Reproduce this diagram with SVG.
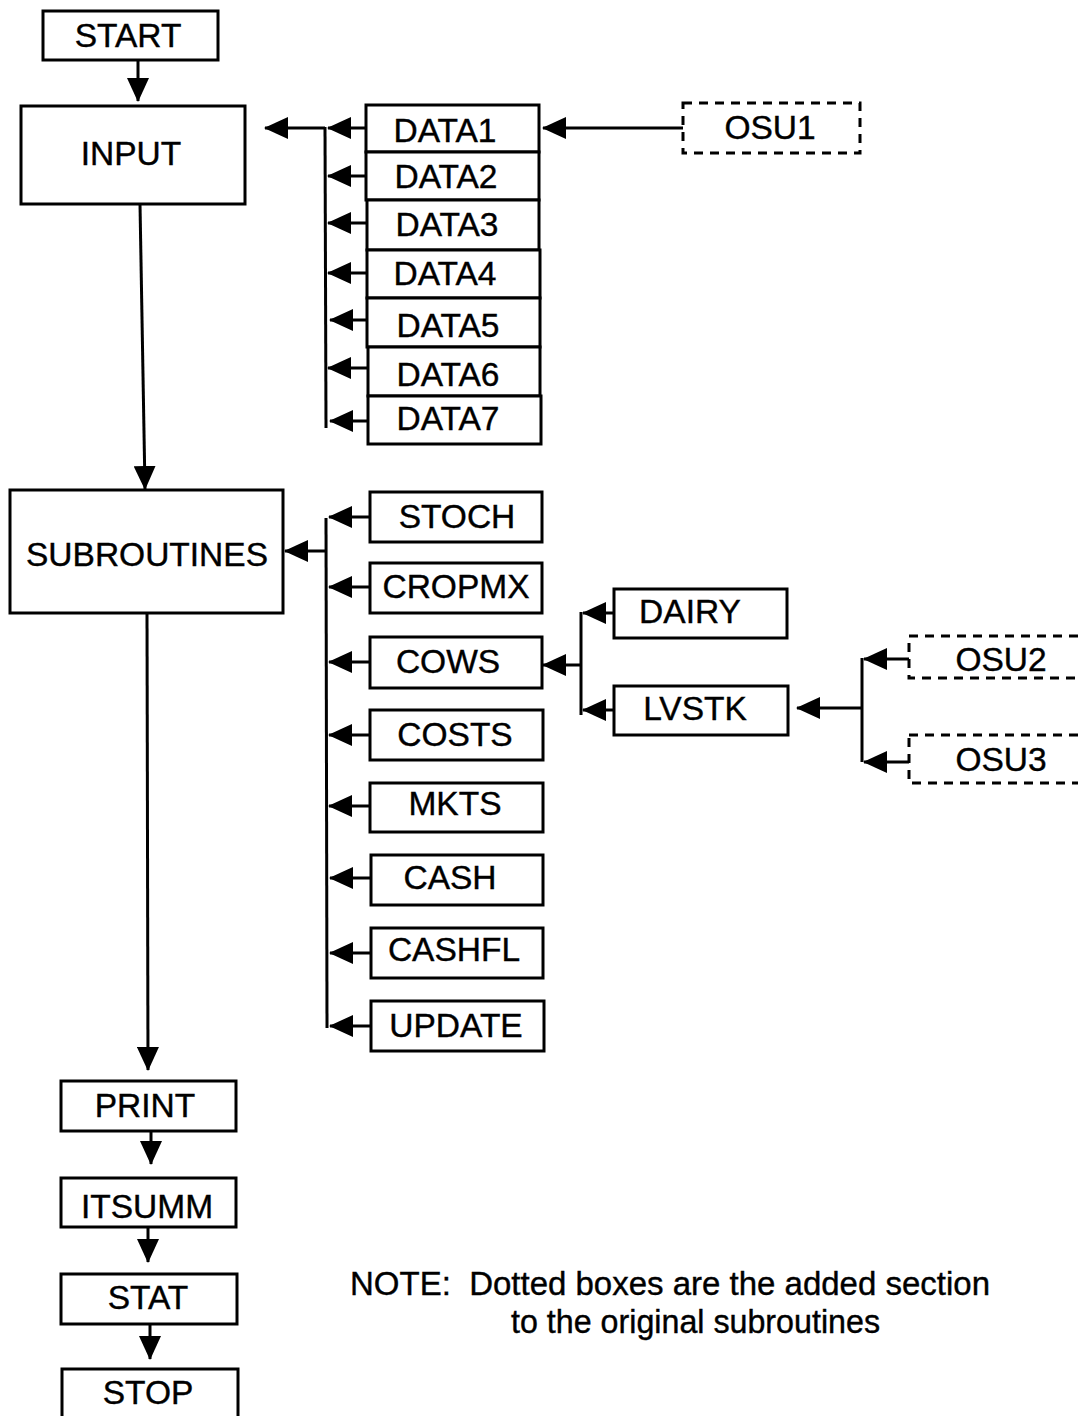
<svg xmlns="http://www.w3.org/2000/svg" width="1078" height="1416" viewBox="0 0 1078 1416">
<style>
.box{fill:#fff;stroke:#000;stroke-width:3}
.dash{fill:none;stroke:#000;stroke-width:3;stroke-dasharray:9 7}
.ln{fill:none;stroke:#000;stroke-width:3}
.arr{fill:none;stroke:#000;stroke-width:3;marker-end:url(#ah)}
text{font-family:"Liberation Sans",Arial,sans-serif;font-size:33.5px;fill:#000;stroke:#000;stroke-width:0.4;text-anchor:middle}
.note{text-anchor:start}
</style>
<defs>
<marker id="ah" markerUnits="userSpaceOnUse" markerWidth="24" markerHeight="22" refX="23" refY="11" orient="auto">
<path d="M0,0 L24,11 L0,22 z" fill="#000"/>
</marker>
</defs>
<g id="connectors">
<line class="arr" x1="138" y1="60" x2="138" y2="101"/>
<line class="arr" x1="325" y1="128" x2="265" y2="128"/>
<line class="ln" x1="325" y1="127" x2="326" y2="428"/>
<line class="arr" x1="366" y1="128" x2="328" y2="128"/>
<line class="arr" x1="366" y1="176" x2="328" y2="176"/>
<line class="arr" x1="366" y1="223" x2="328" y2="223"/>
<line class="arr" x1="367" y1="273" x2="328" y2="273"/>
<line class="arr" x1="367" y1="320" x2="330" y2="320"/>
<line class="arr" x1="368" y1="368" x2="328" y2="368"/>
<line class="arr" x1="368" y1="421" x2="330" y2="421"/>
<line class="arr" x1="683" y1="128" x2="543" y2="128"/>
<line class="arr" x1="140" y1="204" x2="145" y2="489"/>
<line class="arr" x1="326" y1="551" x2="285" y2="551"/>
<line class="ln" x1="326" y1="518" x2="327" y2="1028"/>
<line class="arr" x1="370" y1="517" x2="329" y2="517"/>
<line class="arr" x1="370" y1="587" x2="329" y2="587"/>
<line class="arr" x1="370" y1="662" x2="329" y2="662"/>
<line class="arr" x1="370" y1="735" x2="329" y2="735"/>
<line class="arr" x1="370" y1="806" x2="329" y2="806"/>
<line class="arr" x1="371" y1="878" x2="330" y2="878"/>
<line class="arr" x1="371" y1="953" x2="330" y2="953"/>
<line class="arr" x1="371" y1="1026" x2="330" y2="1026"/>
<line class="arr" x1="581" y1="665" x2="543" y2="665"/>
<line class="ln" x1="581" y1="612" x2="581" y2="715"/>
<line class="arr" x1="614" y1="613" x2="583" y2="613"/>
<line class="arr" x1="614" y1="710" x2="583" y2="710"/>
<line class="arr" x1="862" y1="708" x2="797" y2="708"/>
<line class="ln" x1="862" y1="658" x2="862" y2="762"/>
<line class="arr" x1="909" y1="659" x2="864" y2="659"/>
<line class="arr" x1="909" y1="762" x2="864" y2="762"/>
<line class="arr" x1="147" y1="614" x2="148" y2="1070"/>
<line class="arr" x1="151" y1="1131" x2="151" y2="1164"/>
<line class="arr" x1="148" y1="1227" x2="148" y2="1262"/>
<line class="arr" x1="150" y1="1324" x2="150" y2="1359"/>
</g>
<g id="start"><rect class="box" x="43" y="11" width="175" height="49"/><text x="128" y="47">START</text></g>
<g id="input"><rect class="box" x="21" y="106" width="224" height="98"/><text x="131" y="165">INPUT</text></g>
<g id="data1"><rect class="box" x="366" y="105" width="173" height="47"/><text x="445" y="142">DATA1</text></g>
<g id="data2"><rect class="box" x="366" y="152" width="173" height="48"/><text x="446" y="188">DATA2</text></g>
<g id="data3"><rect class="box" x="367" y="200" width="172" height="50"/><text x="447" y="236">DATA3</text></g>
<g id="data4"><rect class="box" x="367" y="250" width="173" height="48"/><text x="445" y="285">DATA4</text></g>
<g id="data5"><rect class="box" x="367" y="298" width="173" height="49"/><text x="448" y="337">DATA5</text></g>
<g id="data6"><rect class="box" x="368" y="347" width="172" height="49"/><text x="448" y="386">DATA6</text></g>
<g id="data7"><rect class="box" x="368" y="396" width="173" height="48"/><text x="448" y="430">DATA7</text></g>
<g id="osu1"><rect class="dash" x="683" y="103" width="177" height="50"/><text x="770" y="139">OSU1</text></g>
<g id="subroutines"><rect class="box" x="10" y="490" width="273" height="123"/><text x="147" y="566">SUBROUTINES</text></g>
<g id="stoch"><rect class="box" x="370" y="492" width="172" height="50"/><text x="457" y="528">STOCH</text></g>
<g id="cropmx"><rect class="box" x="370" y="563" width="172" height="50"/><text x="456" y="598">CROPMX</text></g>
<g id="cows"><rect class="box" x="370" y="637" width="172" height="51"/><text x="448" y="673">COWS</text></g>
<g id="costs"><rect class="box" x="370" y="710" width="173" height="50"/><text x="455" y="746">COSTS</text></g>
<g id="mkts"><rect class="box" x="370" y="783" width="173" height="49"/><text x="455" y="815">MKTS</text></g>
<g id="cash"><rect class="box" x="371" y="855" width="172" height="50"/><text x="450" y="889">CASH</text></g>
<g id="cashfl"><rect class="box" x="371" y="928" width="172" height="50"/><text x="454" y="961">CASHFL</text></g>
<g id="update"><rect class="box" x="371" y="1001" width="173" height="50"/><text x="456" y="1037">UPDATE</text></g>
<g id="dairy"><rect class="box" x="614" y="589" width="173" height="49"/><text x="690" y="623">DAIRY</text></g>
<g id="lvstk"><rect class="box" x="614" y="686" width="174" height="49"/><text x="695" y="720">LVSTK</text></g>
<g id="osu2"><rect class="dash" x="909" y="636" width="190" height="42"/><text x="1001" y="671">OSU2</text></g>
<g id="osu3"><rect class="dash" x="909" y="735" width="190" height="48"/><text x="1001" y="771">OSU3</text></g>
<g id="print"><rect class="box" x="61" y="1081" width="175" height="50"/><text x="145" y="1117">PRINT</text></g>
<g id="itsumm"><rect class="box" x="61" y="1178" width="175" height="49"/><text x="147" y="1218">ITSUMM</text></g>
<g id="stat"><rect class="box" x="61" y="1274" width="176" height="50"/><text x="148" y="1309">STAT</text></g>
<g id="stop"><rect class="box" x="62" y="1369" width="176" height="60"/><text x="148" y="1404">STOP</text></g>
<g id="note">
<text class="note" x="350" y="1295" textLength="640" lengthAdjust="spacingAndGlyphs" xml:space="preserve">NOTE:  Dotted boxes are the added section</text>
<text class="note" x="511" y="1333" textLength="369" lengthAdjust="spacingAndGlyphs">to the original subroutines</text>
</g>
</svg>
